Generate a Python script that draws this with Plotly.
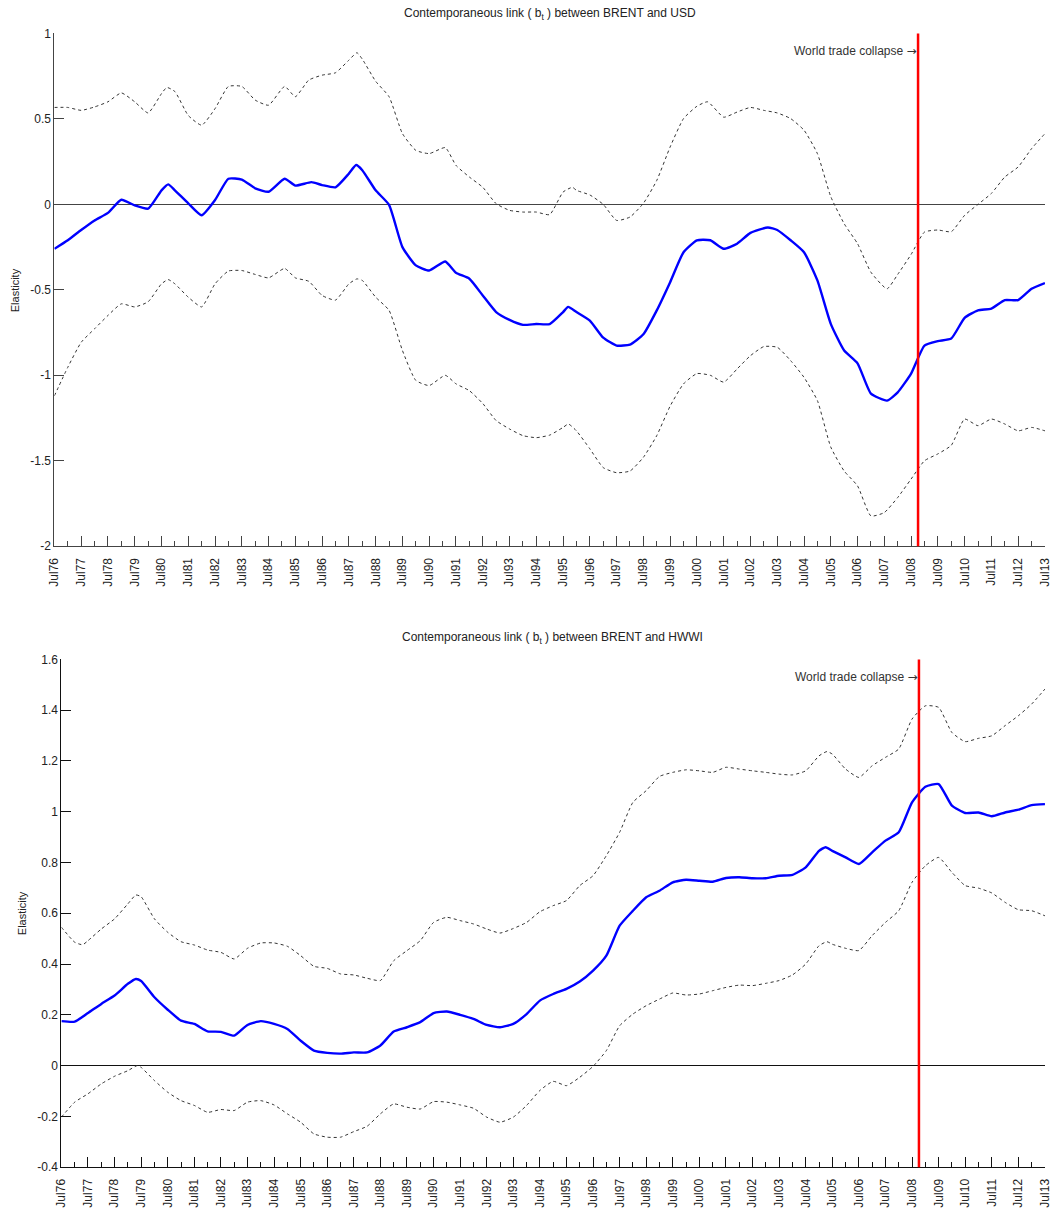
import plotly.graph_objects as go

# ---------------- data: BRENT vs USD ----------------
usd_mid_x = [1976.5, 1977.0, 1977.5, 1978.0, 1978.5, 1979.0, 1979.5, 1980.0, 1980.5, 1980.75, 1981.0, 1981.5,
             1982.0, 1982.5, 1983.0, 1983.5, 1984.0, 1984.5, 1985.1, 1985.5, 1986.1, 1986.5, 1987.0, 1987.5,
             1987.77, 1988.0, 1988.5, 1989.0, 1989.5, 1990.0, 1990.5, 1991.1, 1991.5, 1992.0, 1992.5, 1993.0,
             1993.5, 1994.0, 1994.5, 1995.0, 1995.5, 1995.69, 1996.0, 1996.5, 1997.0, 1997.5, 1998.0, 1998.5,
             1999.0, 1999.5, 2000.0, 2000.5, 2001.0, 2001.5, 2002.0, 2002.5, 2003.15, 2003.5, 2004.0, 2004.5,
             2005.0, 2005.5, 2006.0, 2006.5, 2007.0, 2007.6, 2008.0, 2008.5, 2009.0, 2009.5, 2010.0, 2010.5,
             2011.0, 2011.5, 2012.0, 2012.5, 2013.0, 2013.5]
usd_mid = [-0.26, -0.21, -0.15, -0.094, -0.05, 0.027, -0.006, -0.025, 0.082, 0.117, 0.082, 0.006,
           -0.064, 0.025, 0.15, 0.145, 0.094, 0.074, 0.15, 0.11, 0.13, 0.113, 0.10, 0.18,
           0.23, 0.20, 0.082, -0.003, -0.25, -0.357, -0.387, -0.334, -0.40, -0.435, -0.533, -0.63,
           -0.676, -0.705, -0.70, -0.70, -0.63, -0.60, -0.63, -0.68, -0.78, -0.826, -0.82, -0.76,
           -0.62, -0.455, -0.28, -0.21, -0.21, -0.26, -0.23, -0.167, -0.135, -0.15, -0.21, -0.28,
           -0.445, -0.699, -0.855, -0.93, -1.107, -1.148, -1.10, -0.99, -0.826, -0.80, -0.785, -0.664,
           -0.62, -0.61, -0.56, -0.56, -0.494, -0.46]

usd_up_x = [1976.5, 1977.0, 1977.5, 1978.0, 1978.5, 1979.0, 1979.5, 1980.0, 1980.5, 1980.7, 1981.0, 1981.5,
            1982.0, 1982.5, 1983.0, 1983.5, 1984.0, 1984.5, 1985.1, 1985.5, 1986.0, 1986.5, 1987.0, 1987.5,
            1987.8, 1988.0, 1988.5, 1989.0, 1989.5, 1990.0, 1990.5, 1991.1, 1991.5, 1992.0, 1992.5, 1993.0,
            1993.5, 1994.0, 1994.5, 1995.0, 1995.5, 1995.85, 1996.0, 1996.5, 1997.0, 1997.5, 1998.0, 1998.5,
            1999.0, 1999.5, 2000.0, 2000.5, 2000.9, 2001.5, 2002.0, 2002.5, 2003.0, 2003.5, 2004.0, 2004.5,
            2005.0, 2005.5, 2006.0, 2006.5, 2007.0, 2007.6, 2008.0, 2008.5, 2009.0, 2009.5, 2010.0, 2010.5,
            2011.0, 2011.5, 2012.0, 2012.5, 2013.0, 2013.5]
usd_up = [0.567, 0.567, 0.55, 0.57, 0.60, 0.652, 0.60, 0.535, 0.648, 0.684, 0.66, 0.52,
          0.463, 0.56, 0.69, 0.69, 0.61, 0.58, 0.69, 0.63, 0.727, 0.756, 0.77, 0.844,
          0.887, 0.85, 0.72, 0.63, 0.414, 0.316, 0.297, 0.332, 0.228, 0.16, 0.10, 0.004,
          -0.035, -0.045, -0.045, -0.06, 0.072, 0.10, 0.082, 0.055, 0.0, -0.094, -0.074, 0.006,
          0.14, 0.336, 0.502, 0.574, 0.60, 0.51, 0.54, 0.567, 0.55, 0.535, 0.502, 0.434,
          0.297, 0.045, -0.113, -0.23, -0.397, -0.494, -0.41, -0.293, -0.162, -0.15, -0.16, -0.064,
          0.0, 0.064, 0.16, 0.219, 0.326, 0.414]

usd_lo_x = [1976.5, 1977.0, 1977.5, 1978.0, 1978.5, 1979.0, 1979.5, 1980.0, 1980.5, 1980.75, 1981.0, 1981.5,
            1982.0, 1982.5, 1983.0, 1983.5, 1984.0, 1984.5, 1985.1, 1985.5, 1986.0, 1986.5, 1987.0, 1987.5,
            1987.8, 1988.0, 1988.5, 1989.0, 1989.5, 1990.0, 1990.5, 1991.1, 1991.5, 1992.0, 1992.5, 1993.0,
            1993.5, 1994.0, 1994.5, 1995.0, 1995.5, 1995.7, 1996.0, 1996.5, 1997.0, 1997.5, 1998.0, 1998.5,
            1999.0, 1999.5, 2000.0, 2000.5, 2001.0, 2001.5, 2002.0, 2002.5, 2003.0, 2003.5, 2004.0, 2004.5,
            2005.0, 2005.5, 2006.0, 2006.5, 2007.0, 2007.5, 2008.0, 2008.5, 2009.0, 2009.5, 2010.0, 2010.5,
            2011.0, 2011.5, 2012.0, 2012.5, 2013.0, 2013.5]
usd_lo = [-1.12, -0.953, -0.807, -0.728, -0.65, -0.582, -0.60, -0.57, -0.465, -0.44, -0.465, -0.543,
          -0.60, -0.465, -0.39, -0.387, -0.41, -0.43, -0.375, -0.43, -0.45, -0.533, -0.56, -0.465,
          -0.436, -0.445, -0.543, -0.62, -0.855, -1.03, -1.06, -1.0, -1.05, -1.09, -1.165, -1.265,
          -1.314, -1.353, -1.365, -1.35, -1.305, -1.285, -1.325, -1.43, -1.54, -1.57, -1.56, -1.48,
          -1.353, -1.18, -1.05, -0.99, -1.0, -1.04, -0.963, -0.885, -0.832, -0.836, -0.914, -1.012,
          -1.148, -1.42, -1.56, -1.647, -1.823, -1.803, -1.715, -1.607, -1.50, -1.46, -1.41, -1.256,
          -1.295, -1.256, -1.285, -1.325, -1.305, -1.325]

# ---------------- data: BRENT vs HWWI ----------------
hw_mid_x = [1976.5, 1977.0, 1977.5, 1978.0, 1978.5, 1979.0, 1979.3, 1979.5, 1980.0, 1980.5, 1981.0, 1981.5,
            1982.0, 1982.5, 1983.0, 1983.5, 1984.0, 1984.5, 1985.0, 1985.5, 1986.0, 1986.5, 1987.0, 1987.5,
            1988.0, 1988.5, 1989.0, 1989.5, 1990.0, 1990.5, 1991.0, 1991.5, 1992.0, 1992.5, 1993.0, 1993.5,
            1994.0, 1994.5, 1995.0, 1995.5, 1996.0, 1996.5, 1997.0, 1997.5, 1998.0, 1998.5, 1999.0, 1999.5,
            2000.0, 2000.5, 2001.0, 2001.5, 2002.0, 2002.5, 2003.0, 2003.5, 2004.0, 2004.5, 2005.0, 2005.25,
            2005.5, 2006.0, 2006.5, 2007.0, 2007.5, 2008.0, 2008.5, 2009.0, 2009.5, 2010.0, 2010.5, 2011.0,
            2011.5, 2012.0, 2012.5, 2013.0, 2013.5]
hw_mid = [0.175, 0.173, 0.207, 0.243, 0.276, 0.322, 0.341, 0.333, 0.269, 0.22, 0.177, 0.164,
          0.135, 0.133, 0.118, 0.16, 0.175, 0.164, 0.144, 0.098, 0.059, 0.05, 0.047, 0.052,
          0.052, 0.079, 0.134, 0.151, 0.171, 0.207, 0.213, 0.20, 0.184, 0.16, 0.151, 0.164,
          0.203, 0.256, 0.282, 0.302, 0.331, 0.374, 0.433, 0.551, 0.61, 0.663, 0.689, 0.722,
          0.732, 0.728, 0.724, 0.739, 0.742, 0.738, 0.738, 0.748, 0.751, 0.781, 0.846, 0.86,
          0.846, 0.82, 0.794, 0.84, 0.886, 0.919, 1.037, 1.098, 1.109, 1.024, 0.995, 0.997,
          0.982, 0.997, 1.008, 1.026, 1.03]

hw_up_x = [1976.5, 1977.0, 1977.3, 1977.5, 1978.0, 1978.5, 1979.0, 1979.3, 1979.5, 1980.0, 1980.5, 1981.0,
           1981.5, 1982.0, 1982.5, 1983.0, 1983.5, 1984.0, 1984.5, 1985.0, 1985.5, 1986.0, 1986.5, 1987.0,
           1987.5, 1988.0, 1988.5, 1989.0, 1989.5, 1990.0, 1990.5, 1991.0, 1991.5, 1992.0, 1992.5, 1993.0,
           1993.5, 1994.0, 1994.5, 1995.0, 1995.5, 1996.0, 1996.5, 1997.0, 1997.5, 1998.0, 1998.5, 1999.0,
           1999.5, 2000.0, 2000.5, 2001.0, 2001.5, 2002.0, 2002.5, 2003.0, 2003.5, 2004.0, 2004.5, 2005.0,
           2005.3, 2005.5, 2006.0, 2006.5, 2007.0, 2007.5, 2008.0, 2008.5, 2009.0, 2009.5, 2010.0, 2010.5,
           2011.0, 2011.5, 2012.0, 2012.5, 2013.0, 2013.5]
hw_up = [0.545, 0.486, 0.476, 0.492, 0.538, 0.578, 0.637, 0.672, 0.665, 0.578, 0.525, 0.488,
         0.475, 0.455, 0.446, 0.42, 0.462, 0.483, 0.483, 0.47, 0.433, 0.391, 0.383, 0.361,
         0.357, 0.344, 0.335, 0.413, 0.453, 0.492, 0.564, 0.584, 0.571, 0.558, 0.538, 0.522,
         0.54, 0.564, 0.606, 0.63, 0.65, 0.709, 0.748, 0.827, 0.919, 1.037, 1.083, 1.139,
         1.155, 1.165, 1.161, 1.155, 1.175, 1.168, 1.161, 1.155, 1.148, 1.145, 1.161, 1.22,
         1.237, 1.227, 1.168, 1.135, 1.181, 1.214, 1.247, 1.365, 1.417, 1.411, 1.312, 1.276,
         1.289, 1.299, 1.339, 1.378, 1.424, 1.483]

hw_lo_x = [1976.5, 1977.0, 1977.5, 1978.0, 1978.5, 1979.0, 1979.35, 1979.5, 1980.0, 1980.5, 1981.0, 1981.5,
           1982.0, 1982.5, 1983.0, 1983.5, 1984.0, 1984.5, 1985.0, 1985.5, 1986.0, 1986.5, 1987.0, 1987.5,
           1988.0, 1988.5, 1989.0, 1989.5, 1990.0, 1990.5, 1991.0, 1991.5, 1992.0, 1992.5, 1993.0, 1993.5,
           1994.0, 1994.5, 1995.0, 1995.5, 1996.0, 1996.5, 1997.0, 1997.5, 1998.0, 1998.5, 1999.0, 1999.5,
           2000.0, 2000.5, 2001.0, 2001.5, 2002.0, 2002.5, 2003.0, 2003.5, 2004.0, 2004.5, 2005.0, 2005.3,
           2005.5, 2006.0, 2006.5, 2007.0, 2007.5, 2008.0, 2008.5, 2009.0, 2009.5, 2010.0, 2010.5, 2011.0,
           2011.5, 2012.0, 2012.5, 2013.0, 2013.5]
hw_lo = [-0.203, -0.144, -0.111, -0.072, -0.042, -0.02, 0.0, -0.007, -0.059, -0.105, -0.138, -0.157,
         -0.184, -0.173, -0.177, -0.144, -0.138, -0.155, -0.19, -0.223, -0.269, -0.282, -0.282, -0.26,
         -0.239, -0.19, -0.151, -0.164, -0.171, -0.142, -0.144, -0.155, -0.168, -0.203, -0.223, -0.203,
         -0.157, -0.098, -0.062, -0.079, -0.046, -0.003, 0.059, 0.157, 0.203, 0.236, 0.262, 0.286,
         0.278, 0.282, 0.295, 0.308, 0.317, 0.315, 0.324, 0.335, 0.357, 0.40, 0.472, 0.488,
         0.478, 0.462, 0.453, 0.512, 0.564, 0.61, 0.722, 0.787, 0.82, 0.761, 0.709, 0.699,
         0.68, 0.643, 0.614, 0.61, 0.59]

# ---------------- ticks / labels ----------------
x_tickvals = [1976.5 + i for i in range(38)]
x_ticktext = ["Jul%02d" % ((76 + i) % 100) for i in range(38)]
usd_yticks = [1, 0.5, 0, -0.5, -1, -1.5, -2]
usd_yticktext = ["1", "0.5", "0", "-0.5", "-1", "-1.5", "-2"]
hw_yticks = [1.6, 1.4, 1.2, 1.0, 0.8, 0.6, 0.4, 0.2, 0, -0.2, -0.4]
hw_yticktext = ["1.6", "1.4", "1.2", "1", "0.8", "0.6", "0.4", "0.2", "0", "-0.2", "-0.4"]
collapse_x = 2008.76
titles = ["Contemporaneous link ( b<sub>t</sub> ) between BRENT and USD",
          "Contemporaneous link ( b<sub>t</sub> ) between BRENT and HWWI"]

W, H = 1052, 1216
FONT = "Liberation Sans, Arial, sans-serif"
# screen placement observed in earlier renders: screen = 7.6 + 0.987 * page
S0, SK = 7.6, 0.987

fig = go.Figure()

def add_band(x, y, xa, ya):
    fig.add_trace(go.Scatter(x=x, y=y, mode="lines", xaxis=xa, yaxis=ya,
                             line=dict(color="#333333", width=1, dash="3px,3px", shape="spline", smoothing=0.5),
                             showlegend=False, hoverinfo="skip"))

def add_mid(x, y, xa, ya):
    fig.add_trace(go.Scatter(x=x, y=y, mode="lines", xaxis=xa, yaxis=ya,
                             line=dict(color="#0000ff", width=2.4, shape="spline", smoothing=0.5),
                             showlegend=False))

add_band(usd_up_x, usd_up, "x", "y")
add_band(usd_lo_x, usd_lo, "x", "y")
add_mid(usd_mid_x, usd_mid, "x", "y")
add_band(hw_up_x, hw_up, "x2", "y2")
add_band(hw_lo_x, hw_lo, "x2", "y2")
add_mid(hw_mid_x, hw_mid, "x2", "y2")

def px_x(p):
    return max(0.0, min(1.0, ((p - S0) / SK) / W))

def px_y(p):
    return max(0.0, min(1.0, 1 - ((p - S0) / SK) / H))

XR = [1976.499, 2013.502]
RIGHT = 1048

def xaxis(left, anchor, color):
    return dict(domain=[px_x(left), px_x(RIGHT)], range=XR, anchor=anchor,
                tickmode="array", tickvals=x_tickvals, ticktext=x_ticktext, tickangle=-90,
                ticks="inside", ticklen=10, tickwidth=1, tickcolor=color,
                minor=dict(ticks="inside", ticklen=5, tickwidth=1, tickcolor=color, dtick=1, tick0=1977.0),
                showline=True, linecolor=color, linewidth=1, mirror=False,
                showgrid=False, zeroline=False, ticklabelstandoff=6, ticklabeloverflow="allow",
                tickfont=dict(family=FONT, size=12, color="#222"))

def yaxis(top, bottom, anchor, rng, tv, tt, color):
    return dict(domain=[px_y(bottom), px_y(top)], range=rng, anchor=anchor,
                tickmode="array", tickvals=tv, ticktext=tt,
                ticks="inside", ticklen=10, tickwidth=1, tickcolor=color,
                showline=True, linecolor=color, linewidth=1, mirror=False,
                showgrid=False, zeroline=True, zerolinecolor=color, zerolinewidth=1,
                ticklabeloverflow="allow",
                tickfont=dict(family=FONT, size=12, color="#222"))

fig.update_layout(
    width=W, height=H, margin=dict(l=0, r=0, t=0, b=0),
    paper_bgcolor="white", plot_bgcolor="white",
    xaxis=xaxis(55, "y", "#444444"),
    yaxis=yaxis(34, 546, "x", [-2, 1], usd_yticks, usd_yticktext, "#444444"),
    xaxis2=xaxis(62, "y2", "#111111"),
    yaxis2=yaxis(659, 1166, "x2", [-0.4, 1.6], hw_yticks, hw_yticktext, "#111111"),
    font=dict(family=FONT, size=12, color="#222"),
)

# red vertical line + annotation
for xr, yr in (("x", "y"), ("x2", "y2")):
    fig.add_shape(type="line", xref=xr, yref=yr + " domain", x0=collapse_x, x1=collapse_x, y0=0, y1=1,
                  line=dict(color="#ff0000", width=2.5))
    fig.add_annotation(xref=xr, yref=yr + " domain", x=collapse_x, y=0.965, xanchor="right", yanchor="middle",
                       text="World trade collapse <span style='font-family:DejaVu Sans'>\u2192</span>",
                       showarrow=False, xshift=1,
                       font=dict(family=FONT, size=12, color="#333"))

# titles
fig.add_annotation(xref="paper", yref="paper", x=px_x(551), y=px_y(15), text=titles[0], showarrow=False,
                   xanchor="center", yanchor="middle", font=dict(family=FONT, size=12, color="#222"))
fig.add_annotation(xref="paper", yref="paper", x=px_x(553), y=px_y(638), text=titles[1], showarrow=False,
                   xanchor="center", yanchor="middle", font=dict(family=FONT, size=12, color="#222"))

# y labels
fig.add_annotation(xref="paper", yref="paper", x=px_x(15), y=px_y(290), text="Elasticity", textangle=-90,
                   showarrow=False, xanchor="center", yanchor="middle",
                   font=dict(family=FONT, size=11, color="#222"))
fig.add_annotation(xref="paper", yref="paper", x=px_x(22), y=px_y(912), text="Elasticity", textangle=-90,
                   showarrow=False, xanchor="center", yanchor="middle",
                   font=dict(family=FONT, size=11, color="#222"))

fig.write_html("out.html", config={"displayModeBar": False},
               post_script="document.body.style.margin='0';document.documentElement.style.overflow='hidden';")
